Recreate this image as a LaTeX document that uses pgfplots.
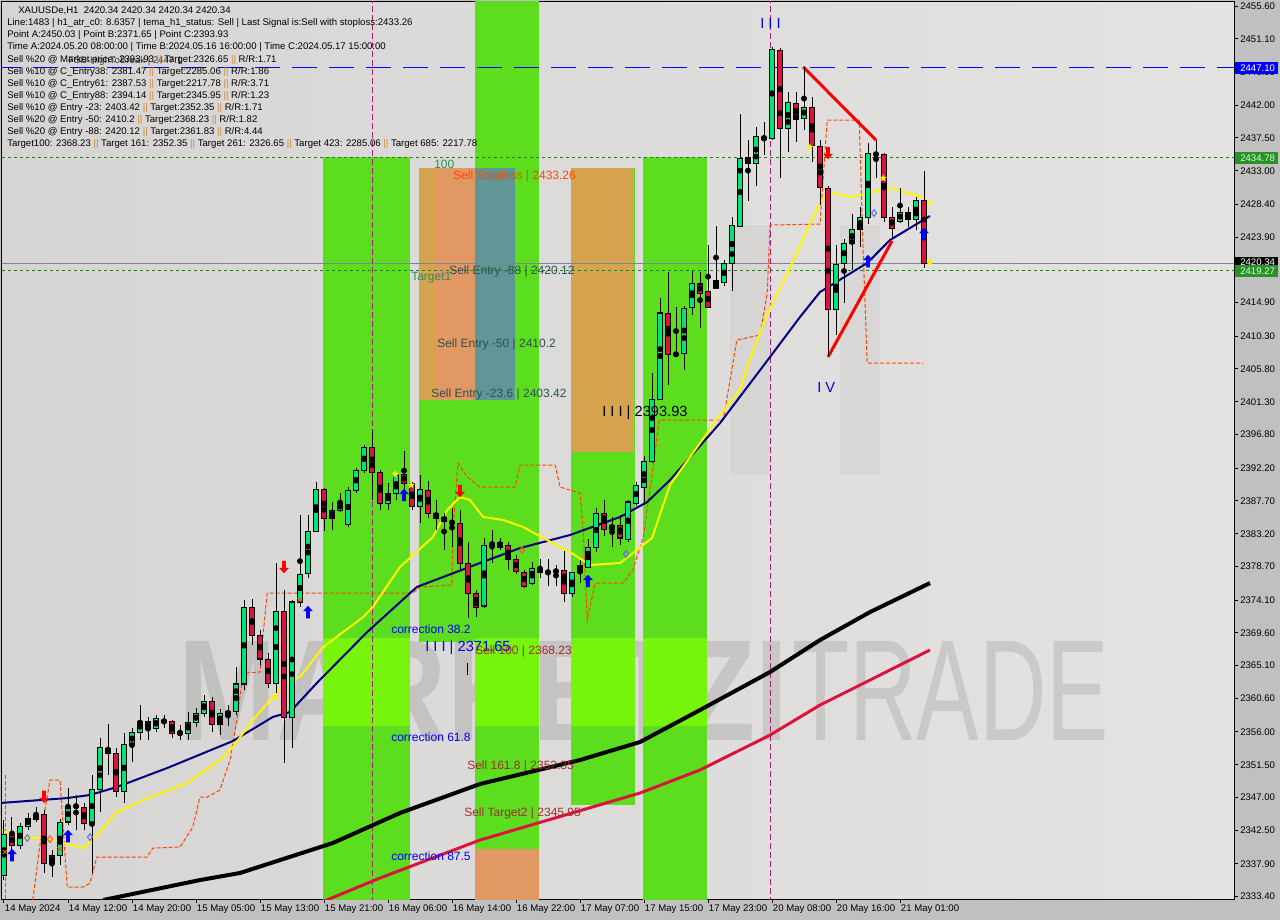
\documentclass[border=0pt]{standalone}
\usepackage{fontspec}
\setmainfont{Liberation Sans}
\usepackage{pgfplots}
\usepackage{pgfplotstable}
\pgfplotsset{compat=1.18}

\definecolor{bgout}{RGB}{192,192,192}
\definecolor{bgl}{RGB}{214,213,211}
\definecolor{bgr}{RGB}{228,227,225}
\definecolor{zgreen}{RGB}{92,222,30}
\definecolor{zlime}{RGB}{118,244,12}
\definecolor{zsalmon}{RGB}{226,152,98}
\definecolor{ztan}{RGB}{214,163,78}
\definecolor{zteal}{RGB}{96,150,150}
\definecolor{cup}{RGB}{0,230,118}
\definecolor{cdn}{RGB}{220,20,60}
\definecolor{navyline}{RGB}{0,0,128}
\definecolor{yelline}{RGB}{255,245,0}
\definecolor{crline}{RGB}{220,20,60}
\definecolor{stepline}{RGB}{255,69,0}
\definecolor{vline}{RGB}{170,30,120}
\definecolor{pline}{RGB}{119,136,153}
\definecolor{dotgreen}{RGB}{30,130,30}
\definecolor{boxgreen}{RGB}{40,145,40}
\definecolor{sepor}{RGB}{204,136,51}
\definecolor{brownred}{RGB}{165,42,42}
\definecolor{slate}{RGB}{47,79,79}
\definecolor{seag}{RGB}{46,139,87}

% candles: bar index, open, high, low, close
\pgfplotstableread{
k o h l c
0 2336.37 2343.92 2335.68 2341.99
2 2340.48 2343.51 2339.94 2343.10
3 2343.10 2344.88 2342.54 2344.19
4 2344.06 2345.70 2343.65 2344.74
6 2338.02 2339.80 2336.10 2339.11
7 2339.11 2344.06 2337.74 2343.65
8 2343.65 2348.30 2343.23 2345.84
9 2345.84 2347.34 2342.54 2345.80
11 2343.51 2350.09 2336.65 2348.17
12 2348.17 2355.16 2345.02 2353.93
15 2347.89 2355.85 2346.25 2354.34
16 2354.20 2356.54 2351.88 2355.99
17 2355.99 2359.69 2354.89 2357.50
19 2356.54 2358.32 2355.99 2357.91
20 2357.50 2358.32 2356.54 2357.46
22 2355.85 2356.95 2354.89 2355.80
23 2355.85 2358.74 2354.89 2357.36
24 2357.36 2359.28 2356.68 2358.60
25 2358.60 2361.07 2358.05 2360.24
27 2357.09 2359.14 2355.57 2358.60
28 2358.46 2359.69 2356.82 2358.74
29 2358.74 2364.91 2358.32 2362.58
30 2362.58 2374.10 2361.75 2373.14
34 2362.71 2379.18 2361.34 2372.59
36 2358.05 2374.10 2353.79 2373.83
37 2373.83 2385.76 2373.14 2377.67
38 2377.67 2385.76 2377.12 2383.56
39 2383.56 2390.29 2383.43 2389.33
41 2385.35 2387.55 2383.70 2386.45
42 2386.45 2388.78 2386.17 2387.41
43 2384.53 2389.60 2384.12 2389.19
44 2389.19 2392.21 2388.78 2391.94
45 2391.94 2395.37 2391.52 2395.09
48 2387.41 2390.15 2386.45 2388.78
49 2388.78 2391.52 2387.82 2391.25
52 2387.00 2391.25 2384.67 2389.33
55 2384.94 2386.04 2380.96 2385.49
60 2373.28 2382.61 2373.00 2381.64
61 2381.64 2383.70 2379.18 2381.92
66 2376.43 2379.31 2376.16 2378.49
68 2377.94 2379.72 2376.02 2377.90
69 2378.08 2378.90 2376.02 2378.04
71 2375.06 2378.00 2374.51 2377.94
72 2377.94 2379.59 2376.43 2378.90
73 2378.63 2382.47 2378.49 2381.37
74 2381.37 2386.72 2380.69 2386.04
76 2383.84 2385.49 2381.37 2384.39
78 2382.47 2387.82 2382.06 2387.55
79 2387.41 2390.29 2387.00 2389.88
80 2389.60 2393.93 2387.14 2393.17
81 2393.17 2405.24 2392.90 2401.68
82 2401.68 2415.53 2401.54 2413.48
84 2407.85 2414.30 2407.71 2407.80
85 2407.99 2414.44 2405.66 2414.16
86 2414.30 2419.24 2413.20 2417.59
89 2416.91 2425.41 2416.77 2417.87
90 2417.73 2420.76 2417.18 2420.34
91 2420.34 2426.65 2416.50 2425.55
92 2425.41 2440.78 2425.27 2434.74
94 2434.06 2438.99 2430.90 2437.76
96 2437.49 2450.03 2437.21 2449.70
98 2438.86 2443.80 2435.57 2442.43
100 2440.23 2447.23 2438.58 2441.74
104 2414.03 2422.81 2410.46 2420.20
105 2420.34 2423.63 2414.85 2423.08
106 2423.08 2427.06 2419.38 2425.00
107 2425.00 2428.02 2422.53 2426.65
108 2426.65 2436.80 2425.69 2435.43
109 2435.29 2437.21 2432.00 2435.25
112 2426.10 2430.63 2425.83 2427.33
114 2426.37 2429.39 2424.86 2428.98
}\upcandles

\pgfplotstableread{
k o h l c
1 2341.85 2344.33 2339.80 2340.48
5 2344.74 2345.29 2336.65 2338.02
10 2345.70 2346.25 2342.54 2343.51
13 2353.79 2357.09 2350.09 2353.11
14 2353.11 2353.79 2347.07 2347.89
18 2357.50 2358.05 2354.89 2356.54
21 2357.50 2357.60 2355.16 2355.85
26 2360.24 2360.79 2355.99 2357.09
31 2373.14 2374.24 2367.92 2369.29
32 2369.29 2369.98 2365.18 2366.01
33 2366.01 2366.83 2362.02 2362.71
35 2372.59 2375.47 2351.74 2358.05
40 2389.33 2389.47 2383.56 2385.35
46 2395.09 2397.42 2387.82 2391.66
47 2391.66 2391.94 2386.45 2387.41
50 2391.39 2394.54 2389.19 2390.15
51 2390.15 2390.30 2386.45 2387.00
53 2389.19 2390.43 2385.35 2386.04
54 2386.04 2387.82 2383.70 2385.35
56 2384.80 2386.72 2381.37 2384.67
57 2384.67 2386.45 2378.22 2379.18
58 2379.18 2382.06 2371.65 2375.06
59 2375.06 2375.47 2371.80 2373.14
62 2382.06 2382.61 2380.96 2381.37
63 2381.51 2382.06 2378.22 2379.72
64 2379.72 2380.27 2377.67 2378.08
65 2377.94 2378.22 2375.75 2376.02
67 2378.49 2379.72 2377.12 2377.94
70 2378.22 2380.82 2373.83 2375.06
75 2386.04 2387.82 2382.88 2383.84
77 2384.39 2385.76 2381.64 2382.61
83 2413.48 2419.10 2403.60 2407.85
87 2417.46 2419.10 2411.42 2416.22
88 2416.50 2422.81 2414.16 2414.30
93 2434.88 2437.21 2428.84 2434.06
95 2437.62 2439.68 2435.15 2437.35
97 2449.56 2449.83 2432.00 2438.86
99 2442.29 2443.80 2436.94 2440.09
101 2441.74 2443.11 2434.19 2436.53
102 2436.39 2437.21 2428.29 2430.76
103 2430.63 2430.90 2407.58 2414.03
110 2435.29 2435.43 2425.96 2426.65
111 2426.65 2428.02 2423.77 2425.14
113 2427.33 2428.02 2425.27 2426.37
115 2428.98 2432.98 2419.65 2420.34
}\dncandles

\pgfdeclareplotmark{arrup}{%
  \pgfpathmoveto{\pgfqpoint{0pt}{1.3\pgfplotmarksize}}%
  \pgfpathlineto{\pgfqpoint{\pgfplotmarksize}{0.2\pgfplotmarksize}}%
  \pgfpathlineto{\pgfqpoint{0.4\pgfplotmarksize}{0.2\pgfplotmarksize}}%
  \pgfpathlineto{\pgfqpoint{0.4\pgfplotmarksize}{-1.3\pgfplotmarksize}}%
  \pgfpathlineto{\pgfqpoint{-0.4\pgfplotmarksize}{-1.3\pgfplotmarksize}}%
  \pgfpathlineto{\pgfqpoint{-0.4\pgfplotmarksize}{0.2\pgfplotmarksize}}%
  \pgfpathlineto{\pgfqpoint{-\pgfplotmarksize}{0.2\pgfplotmarksize}}%
  \pgfpathclose\pgfusepathqfill}
\pgfdeclareplotmark{arrdn}{%
  \pgfpathmoveto{\pgfqpoint{0pt}{-1.3\pgfplotmarksize}}%
  \pgfpathlineto{\pgfqpoint{\pgfplotmarksize}{-0.2\pgfplotmarksize}}%
  \pgfpathlineto{\pgfqpoint{0.4\pgfplotmarksize}{-0.2\pgfplotmarksize}}%
  \pgfpathlineto{\pgfqpoint{0.4\pgfplotmarksize}{1.3\pgfplotmarksize}}%
  \pgfpathlineto{\pgfqpoint{-0.4\pgfplotmarksize}{1.3\pgfplotmarksize}}%
  \pgfpathlineto{\pgfqpoint{-0.4\pgfplotmarksize}{-0.2\pgfplotmarksize}}%
  \pgfpathlineto{\pgfqpoint{-\pgfplotmarksize}{-0.2\pgfplotmarksize}}%
  \pgfpathclose\pgfusepathqfill}
\pgfdeclareplotmark{fstar}{%
  \pgfpathmoveto{\pgfpointpolar{90}{\pgfplotmarksize}}%
  \pgfpathlineto{\pgfpointpolar{126}{0.42\pgfplotmarksize}}%
  \pgfpathlineto{\pgfpointpolar{162}{\pgfplotmarksize}}%
  \pgfpathlineto{\pgfpointpolar{198}{0.42\pgfplotmarksize}}%
  \pgfpathlineto{\pgfpointpolar{234}{\pgfplotmarksize}}%
  \pgfpathlineto{\pgfpointpolar{270}{0.42\pgfplotmarksize}}%
  \pgfpathlineto{\pgfpointpolar{306}{\pgfplotmarksize}}%
  \pgfpathlineto{\pgfpointpolar{342}{0.42\pgfplotmarksize}}%
  \pgfpathlineto{\pgfpointpolar{18}{\pgfplotmarksize}}%
  \pgfpathlineto{\pgfpointpolar{54}{0.42\pgfplotmarksize}}%
  \pgfpathclose\pgfusepathqfill}

\newcommand{\tf}{\fontsize{7.2}{8}\selectfont}
\newcommand{\lf}{\fontsize{9}{10}\selectfont}
\newcommand{\bigf}{\fontsize{11}{12}\selectfont}
\newcommand{\sepp}{{\color{sepor}||}}

\begin{document}
\begin{tikzpicture}
% background, plot area, watermark (pixel units, y down)
\begin{scope}[x=0.75pt,y=-0.75pt]
  \fill[bgout] (0,0) rectangle (1280,920);
  \shade[left color=bgl, right color=bgr] (2,2) rectangle (1234,899);
  \fill[black, opacity=0.035] (730,225) rectangle (770,475);
  \fill[black, opacity=0.035] (840,225) rectangle (880,475);
  \node[anchor=base west, inner sep=0pt, text=black, opacity=0.1, xscale=0.82]
    at (178,740) {\fontsize{108}{108}\selectfont\bfseries MARKETZI};
  \node[anchor=base west, inner sep=0pt, text=black, opacity=0.1, xscale=0.65]
    at (792,740) {\fontsize{108}{108}\selectfont TRADE};
\end{scope}

\begin{axis}[
    at={(1.5pt,-674.25pt)}, anchor=south west,
    scale only axis, width=924pt, height=672.75pt,
    xmin=-0.25, xmax=153.75, ymin=2333.08, ymax=2456.15,
    axis line style={black, line width=0.75pt},
    tick align=outside, major tick length=3pt,
    tick style={black, line width=0.75pt},
    xtick pos=lower, ytick pos=right,
    xtick={0,8,...,112},
    xticklabels={14 May 2024, 14 May 12:00, 14 May 20:00, 15 May 05:00, 15 May 13:00,
      15 May 21:00, 16 May 06:00, 16 May 14:00, 16 May 22:00, 17 May 07:00,
      17 May 15:00, 17 May 23:00, 20 May 08:00, 20 May 16:00, 21 May 01:00},
    x tick label style={anchor=north west, inner sep=0pt, xshift=0.5pt, yshift=-1.5pt},
    ytick={2455.6,2451.1,2446.5,2442.0,2437.5,2433.0,2428.4,2423.9,2419.4,2414.9,
      2410.3,2405.8,2401.3,2396.8,2392.2,2387.7,2383.2,2378.7,2374.1,2369.6,
      2365.1,2360.6,2356.0,2351.5,2347.0,2342.5,2337.9,2333.4},
    yticklabels={2455.60,2451.10,2446.50,2442.00,2437.50,2433.00,2428.40,2423.90,
      2419.40,2414.90,2410.30,2405.80,2401.30,2396.80,2392.20,2387.70,2383.20,
      2378.70,2374.10,2369.60,2365.10,2360.60,2356.00,2351.50,2347.00,2342.50,
      2337.90,2333.40},
    yticklabel pos=right,
    y tick label style={anchor=west, inner sep=0pt, xshift=1.5pt},
    ticklabel style={font=\tf},
    clip=true,
]
% coloured zones
\addplot[fill=zgreen, draw=none] coordinates {(39.9,2434.88) (50.75,2434.88) (50.75,2330) (39.9,2330)} -- cycle;
\addplot[fill=zgreen, draw=none] coordinates {(58.9,2460) (66.9,2460) (66.9,2339.94) (58.9,2339.94)} -- cycle;
\addplot[fill=zsalmon, draw=none] coordinates {(58.9,2339.94) (66.9,2339.94) (66.9,2330) (58.9,2330)} -- cycle;
\addplot[fill=zgreen, draw=none] coordinates {(51.9,2433.37) (58.9,2433.37) (58.9,2368.34) (51.9,2368.34)} -- cycle;
\addplot[fill=zgreen, draw=none] coordinates {(70.9,2433.37) (78.9,2433.37) (78.9,2345.97) (70.9,2345.97)} -- cycle;
\addplot[fill=zgreen, draw=none] coordinates {(79.9,2434.88) (87.9,2434.88) (87.9,2330) (79.9,2330)} -- cycle;
% brighter band where the watermark crosses the zones
\addplot[fill=zlime, draw=none] coordinates {(39.9,2368.89) (50.75,2368.89) (50.75,2356.82) (39.9,2356.82)} -- cycle;
\addplot[fill=zlime, draw=none] coordinates {(58.9,2368.89) (66.9,2368.89) (66.9,2356.82) (58.9,2356.82)} -- cycle;
\addplot[fill=zlime, draw=none] coordinates {(70.9,2368.89) (78.9,2368.89) (78.9,2356.82) (70.9,2356.82)} -- cycle;
\addplot[fill=zlime, draw=none] coordinates {(79.9,2368.89) (87.9,2368.89) (87.9,2356.82) (79.9,2356.82)} -- cycle;
\addplot[fill=zsalmon, draw=none] coordinates {(51.9,2433.37) (58.9,2433.37) (58.9,2401.54) (51.9,2401.54)} -- cycle;
\addplot[fill=ztan, draw=none] coordinates {(51.9,2433.37) (53.9,2433.37) (53.9,2401.54) (51.9,2401.54)} -- cycle;
\addplot[fill=zteal, draw=none] coordinates {(58.9,2433.37) (63.9,2433.37) (63.9,2401.54) (58.9,2401.54)} -- cycle;
\addplot[fill=ztan, draw=none] coordinates {(70.9,2433.37) (78.75,2433.37) (78.75,2394.41) (70.9,2394.41)} -- cycle;

% horizontal and vertical levels
\addplot[dotgreen, line width=0.75pt, dash pattern=on 2.25pt off 2.25pt] coordinates {(-1,2434.78) (160,2434.78)};
\addplot[dotgreen, line width=0.75pt, dash pattern=on 2.25pt off 2.25pt] coordinates {(-1,2419.27) (160,2419.27)};
\addplot[pline, line width=0.75pt] coordinates {(-1,2420.34) (160,2420.34)};
\addplot[blue, line width=0.75pt, dash pattern=on 18.75pt off 9pt] coordinates {(-1,2447.10) (160,2447.10)};
\addplot[vline, line width=0.75pt, dash pattern=on 4.5pt off 2.25pt] coordinates {(46,2330) (46,2460)};
\addplot[vline, line width=0.75pt, dash pattern=on 4.5pt off 2.25pt] coordinates {(95.8,2330) (95.8,2460)};

% stepped dashed line
\addplot[stepline, line width=0.75pt, dash pattern=on 3pt off 1.5pt] coordinates {(0.25,2350.09) (0.25,2332.94)};
\addplot[stepline, line width=0.75pt, dash pattern=on 3pt off 1.5pt] coordinates {
(3.6,2332.94) (4.9,2343.92) (5.75,2349.40) (7,2349.40) (7.25,2345.29) (7.9,2334.72)
(9.9,2334.72) (10.75,2335.27) (11.6,2338.84) (17.9,2338.84) (18.6,2340.07) (22,2340.21)
(23.6,2342.95) (24.5,2347.07) (25.4,2347.07) (27,2348.03) (28.25,2352.15) (29.1,2357.64)
(29.9,2364.08) (32,2364.22) (32.4,2369.57) (32.9,2375.06) (51.1,2375.06) (52,2375.89)
(56,2376.16) (56.1,2383.29) (56.75,2392.90) (57.9,2390.98) (59.5,2389.60) (63.9,2389.60)
(64.5,2392.62) (68.9,2392.62) (69.5,2389.60) (72,2388.78) (72.4,2383.70) (72.9,2371.36)
(73.9,2376.43) (77.4,2376.43) (78.6,2378.22) (79.9,2382.74) (81.1,2391.93) (81.9,2398.80)
(89.9,2398.80) (91.6,2409.77) (94.5,2410.46) (95.4,2416.22) (95.75,2425.55) (102,2425.69)
(102.9,2439.96) (106.9,2439.96) (107.4,2421.71) (107.9,2406.62) (114.9,2406.62)};

% moving averages
\addplot[black, line width=3pt] coordinates {
(12.4,2332.94) (24.5,2335.68) (29.5,2336.65) (41.1,2340.76) (49.5,2344.88) (59.5,2348.86)
(72,2352.15) (79.5,2354.62) (87,2359.01) (95.75,2364.22) (102,2368.61) (108.25,2372.45) (115.75,2376.43)};
\addplot[crline, line width=2.25pt] coordinates {
(39.6,2332.6) (47,2335.96) (59.5,2341.17) (79.5,2347.62) (87,2350.78) (95.75,2355.57) (102,2359.69) (115.75,2367.24)};
\addplot[navyline, line width=1.5pt] coordinates {
(-0.5,2346.25) (7.9,2346.93) (10.75,2347.35) (14.1,2348.44) (20.4,2351.05) (28.6,2354.75)
(33.6,2358.05) (35.75,2358.74) (39.1,2362.71) (45.4,2369.71) (51.6,2375.89) (59.5,2379.18)
(64.5,2381.23) (70.75,2383.02) (77,2385.49) (80.4,2387.55) (83.25,2390.56) (89.5,2398.38)
(95.75,2407.44) (99.5,2412.93) (102,2416.36) (107.9,2420.34) (110.75,2423.49) (115.75,2426.79)};
\addplot[yelline, line width=1.5pt] coordinates {
(-0.5,2342.54) (2,2341.58) (5.75,2341.31) (7.4,2340.76) (9.9,2340.07) (11.1,2341.17)
(14.1,2345.01) (17.4,2346.66) (22.9,2348.99) (27,2352.15) (28.6,2353.93) (31.1,2357.64)
(34.9,2362.44) (37,2363.54) (39.9,2367.65) (44.9,2371.77) (46.1,2373.14) (49.5,2378.63)
(53.6,2382.74) (55.4,2386.45) (57,2388.23) (58.25,2387.82) (59.9,2385.49) (62.4,2385.08)
(64.9,2384.12) (67.4,2382.61) (70.75,2380.69) (73.25,2378.90) (77,2379.18) (79.1,2380.96)
(81,2382.61) (83.25,2389.88) (89.5,2399.48) (92,2402.91) (92.9,2406.07) (95.4,2413.34)
(98.25,2419.65) (100.4,2424.86) (101.75,2428.02) (102.9,2430.08) (106.1,2429.39)
(110.75,2430.63) (114.9,2429.39) (115.9,2428.29)};

% triangle lines
\addplot[red, line width=2.25pt] coordinates {(99.9,2447.23) (109,2437.21)};
\addplot[red, line width=2.25pt] coordinates {(103,2407.44) (111,2423.35)};

% candle wicks
\addplot[only marks, mark=none, error bars/.cd, y dir=both, y explicit, error mark=none,
  error bar style={draw=black, line width=0.75pt}]
  table[x=k, y expr={(\thisrow{h}+\thisrow{l})/2}, y error expr={(\thisrow{h}-\thisrow{l})/2}] {\upcandles};
\addplot[only marks, mark=none, error bars/.cd, y dir=both, y explicit, error mark=none,
  error bar style={draw=black, line width=0.75pt}]
  table[x=k, y expr={(\thisrow{h}+\thisrow{l})/2}, y error expr={(\thisrow{h}-\thisrow{l})/2}] {\dncandles};
% candle bodies: black outline then fill
\addplot[only marks, mark=none, error bars/.cd, y dir=both, y explicit, error mark=none,
  error bar style={draw=black, line width=4.5pt}]
  table[x=k, y expr={(\thisrow{o}+\thisrow{c})/2}, y error expr={abs(\thisrow{o}-\thisrow{c})/2+0.07}] {\upcandles};
\addplot[only marks, mark=none, error bars/.cd, y dir=both, y explicit, error mark=none,
  error bar style={draw=cup, line width=3pt}]
  table[x=k, y expr={(\thisrow{o}+\thisrow{c})/2}, y error expr={max(abs(\thisrow{o}-\thisrow{c})/2-0.07,0)}] {\upcandles};
\addplot[only marks, mark=none, error bars/.cd, y dir=both, y explicit, error mark=none,
  error bar style={draw=black, line width=4.5pt}]
  table[x=k, y expr={(\thisrow{o}+\thisrow{c})/2}, y error expr={abs(\thisrow{o}-\thisrow{c})/2+0.07}] {\dncandles};
\addplot[only marks, mark=none, error bars/.cd, y dir=both, y explicit, error mark=none,
  error bar style={draw=cdn, line width=3pt}]
  table[x=k, y expr={(\thisrow{o}+\thisrow{c})/2}, y error expr={max(abs(\thisrow{o}-\thisrow{c})/2-0.07,0)}] {\dncandles};

% signal marks
\addplot[only marks, mark=arrdn, mark size=3.6pt, color=red] coordinates {
(5,2347.1) (35,2378.63) (57,2389.06) (103,2435.43)};
\addplot[only marks, mark=arrup, mark size=3.6pt, color=blue] coordinates {
(1,2339.11) (8,2341.72) (38,2372.45) (50,2388.51) (73,2376.71) (108,2420.61) (115,2424.31)};
\addplot[only marks, mark=fstar, mark size=3pt, color=yellow] coordinates {
(33.9,2360.79) (48.9,2391.39) (50.9,2389.88) (100.75,2436.25) (109.9,2431.99) (115.75,2420.48)};
\addplot[only marks, mark=diamond, mark size=2.5pt, color=blue!60, line width=0.75pt] coordinates {
(2.9,2341.45) (10.75,2341.58) (77.75,2380.41) (108.75,2427.20)};
\addplot[only marks, mark=diamond, mark size=2.5pt, color=red!70, line width=0.75pt] coordinates {
(5.75,2341.31) (64.75,2380.96)};
\addplot[only marks, mark=x, mark size=2.2pt, color=orange!80!black, line width=0.75pt] coordinates {
(0.1,2339.53) (6.9,2339.94) (36.9,2374.10)};
\end{axis}

% texts and price boxes (pixel units, y down)
\begin{scope}[x=0.75pt,y=-0.75pt, every node/.style={inner sep=0pt, anchor=west}]
  \node[font=\tf] at (18,10.7) {XAUUSDe,H1\ \ 2420.34 2420.34 2420.34 2420.34};
  \node[font=\tf] at (7,23.5) {Line:1483 | h1\_atr\_c0: 8.6357 | tema\_h1\_status: Sell | Last Signal is:Sell with stoploss:2433.26};
  \node[font=\tf] at (7,35.3) {Point A:2450.03 | Point B:2371.65 | Point C:2393.93};
  \node[font=\tf] at (7,47.3) {Time A:2024.05.20 08:00:00 | Time B:2024.05.16 16:00:00 | Time C:2024.05.17 15:00:00};
  \node[font=\tf, text=black!75] at (68,61) {FSB-HighToBreak | 2447.1};
  \node[font=\tf] at (7,59.7) {Sell \%20 @ Market price: 2393.93 \sepp{} Target:2326.65 \sepp{} R/R:1.71};
  \node[font=\tf] at (7,71.7) {Sell \%10 @ C\_Entry38: 2381.47 \sepp{} Target:2285.06 \sepp{} R/R:1.86};
  \node[font=\tf] at (7,83.7) {Sell \%10 @ C\_Entry61: 2387.53 \sepp{} Target:2217.78 \sepp{} R/R:3.71};
  \node[font=\tf] at (7,95.7) {Sell \%10 @ C\_Entry88: 2394.14 \sepp{} Target:2345.95 \sepp{} R/R:1.23};
  \node[font=\tf] at (7,107.7) {Sell \%10 @ Entry -23: 2403.42 \sepp{} Target:2352.35 \sepp{} R/R:1.71};
  \node[font=\tf] at (7,119.7) {Sell \%20 @ Entry -50: 2410.2 \sepp{} Target:2368.23 \sepp{} R/R:1.82};
  \node[font=\tf] at (7,131.7) {Sell \%20 @ Entry -88: 2420.12 \sepp{} Target:2361.83 \sepp{} R/R:4.44};
  \node[font=\tf] at (7,143.7) {Target100: 2368.23 \sepp{} Target 161: 2352.35 \sepp{} Target 261: 2326.65 \sepp{} Target 423: 2285.06 \sepp{} Target 685: 2217.78};

  \node[font=\lf, text=seag] at (434,164) {100};
  \node[font=\lf, text=stepline] at (453,176) {Sell Stoploss | 2433.26};
  \node[font=\lf, text=slate] at (449,271) {Sell Entry -88 | 2420.12};
  \node[font=\lf, text=seag] at (411,278) {Target1};
  \node[font=\lf, text=slate] at (437,344) {Sell Entry -50 | 2410.2};
  \node[font=\lf, text=slate] at (431,394) {Sell Entry -23.6 | 2403.42};
  \node[font=\bigf] at (602,413) {I I I | 2393.93};
  \node[font=\lf, text=blue] at (391,629) {correction 38.2};
  \node[font=\bigf, text=blue] at (425,648) {I I I | 2371.65};
  \node[font=\lf, text=brownred] at (475,651) {Sell 100 | 2368.23};
  \node[font=\lf, text=blue] at (391,737) {correction 61.8};
  \node[font=\lf, text=brownred] at (467,766) {Sell 161.8 | 2352.35};
  \node[font=\lf, text=brownred] at (464,813) {Sell Target2 | 2345.95};
  \node[font=\lf, text=blue] at (391,856) {correction 87.5};
  \node[font=\bigf, text=blue] at (760,23) {I I I};
  \node[font=\bigf, text=blue] at (817,387) {I V};
  \draw[black, line width=0.75pt] (467,663) -- (467,675);

  \fill[blue] (1235,62) rectangle (1278,74);
  \node[font=\tf, text=white] at (1240,68) {2447.10};
  \fill[boxgreen] (1235,152) rectangle (1278,164);
  \node[font=\tf, text=white!85!green] at (1240,158) {2434.78};
  \fill[black] (1235,257) rectangle (1278,268);
  \node[font=\tf, text=white] at (1240,262) {2420.34};
  \fill[boxgreen] (1235,265) rectangle (1278,277);
  \node[font=\tf, text=white!85!green] at (1240,271) {2419.27};
\end{scope}
\pgfresetboundingbox
\path[use as bounding box] (0pt,0pt) rectangle (960pt,-690pt);
\end{tikzpicture}
\end{document}
